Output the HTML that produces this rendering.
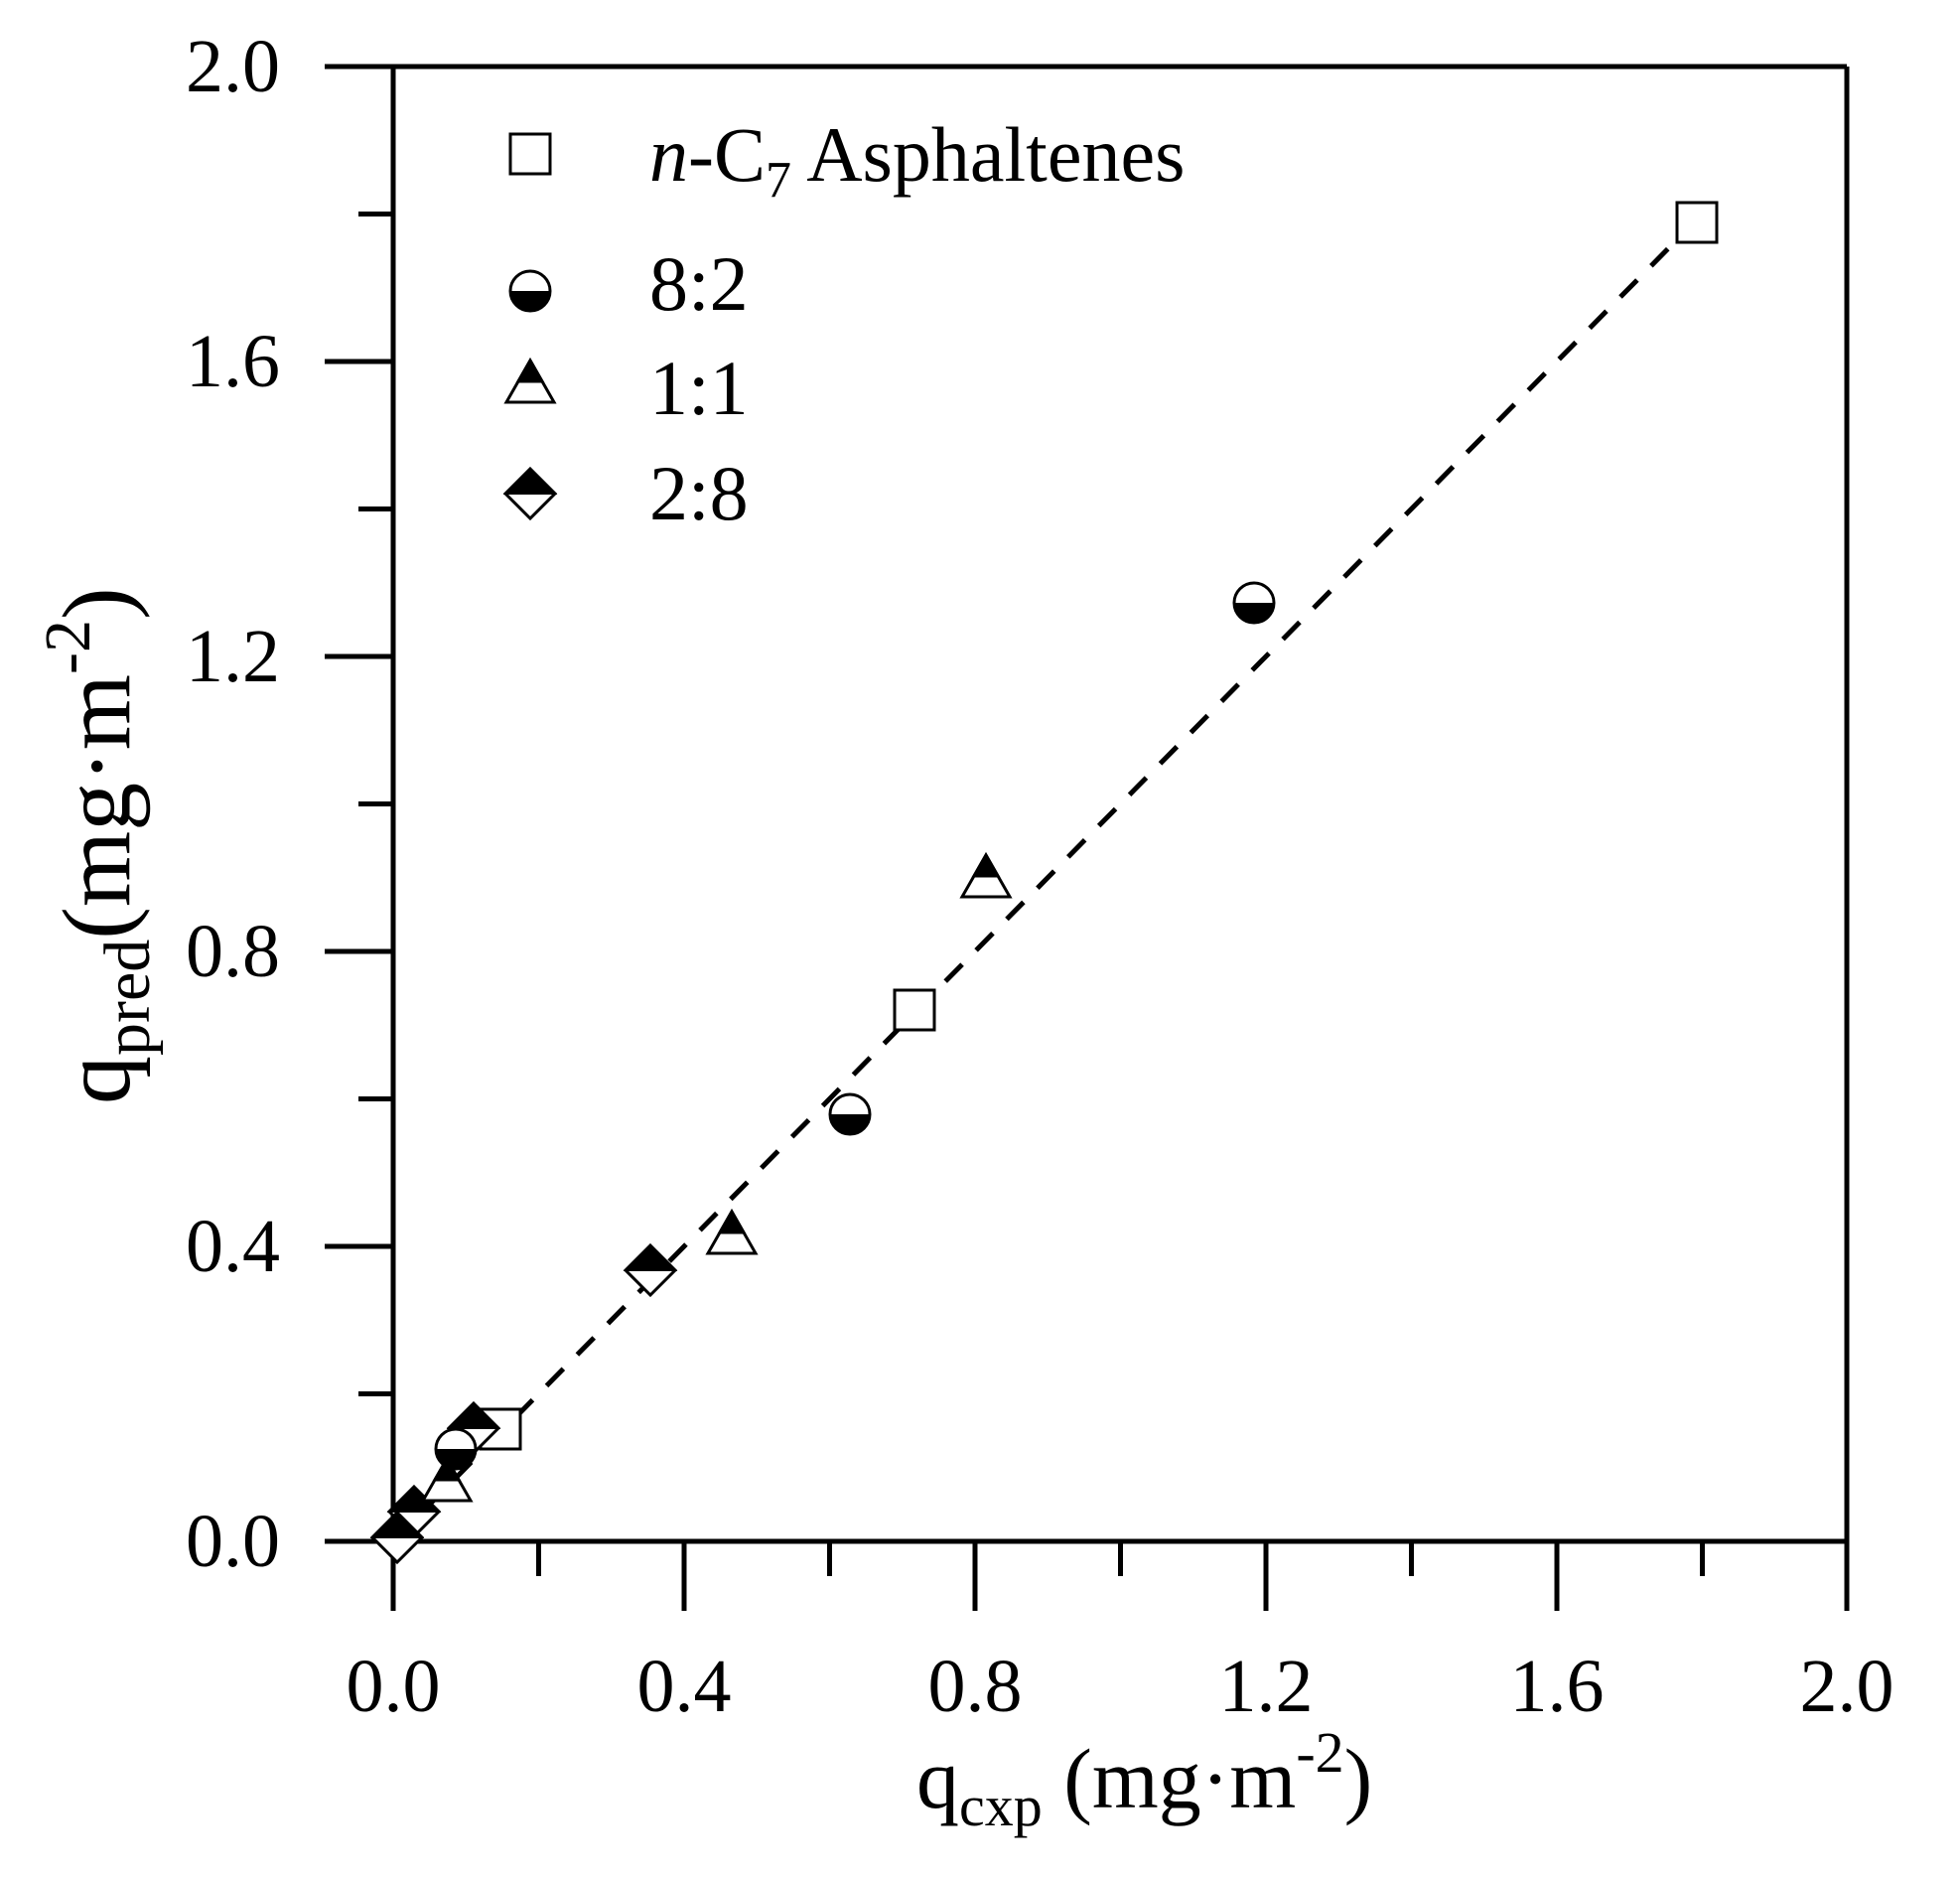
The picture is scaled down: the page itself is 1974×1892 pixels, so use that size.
<!DOCTYPE html>
<html><head><style>body{margin:0;background:#fff}svg{display:block}</style></head>
<body>
<svg width="1974" height="1892" viewBox="0 0 1974 1892" xmlns="http://www.w3.org/2000/svg" font-family="Liberation Serif, serif">
<rect width="1974" height="1892" fill="#fff"/>
<g stroke="#000" stroke-width="5" fill="none">
<line x1="396" y1="67" x2="1860" y2="67"/>
<line x1="1860" y1="67" x2="1860" y2="1552"/>
<line x1="327" y1="1552" x2="1860" y2="1552"/>
<line x1="396" y1="67" x2="396" y2="1622"/>
<line x1="542.5" y1="1552" x2="542.5" y2="1587"/>
<line x1="689" y1="1552" x2="689" y2="1622"/>
<line x1="835.5" y1="1552" x2="835.5" y2="1587"/>
<line x1="982" y1="1552" x2="982" y2="1622"/>
<line x1="1128.5" y1="1552" x2="1128.5" y2="1587"/>
<line x1="1275" y1="1552" x2="1275" y2="1622"/>
<line x1="1421.5" y1="1552" x2="1421.5" y2="1587"/>
<line x1="1568" y1="1552" x2="1568" y2="1622"/>
<line x1="1714.5" y1="1552" x2="1714.5" y2="1587"/>
<line x1="1860" y1="1552" x2="1860" y2="1622"/>
<line x1="361" y1="1403.5" x2="396" y2="1403.5"/>
<line x1="327" y1="1255" x2="396" y2="1255"/>
<line x1="361" y1="1106.5" x2="396" y2="1106.5"/>
<line x1="327" y1="958" x2="396" y2="958"/>
<line x1="361" y1="809.5" x2="396" y2="809.5"/>
<line x1="327" y1="661" x2="396" y2="661"/>
<line x1="361" y1="512.5" x2="396" y2="512.5"/>
<line x1="327" y1="364" x2="396" y2="364"/>
<line x1="361" y1="215.5" x2="396" y2="215.5"/>
<line x1="327" y1="67" x2="396" y2="67"/>
</g>
<g font-size="76" text-anchor="end">
<text x="282" y="1577">0.0</text>
<text x="282" y="1280">0.4</text>
<text x="282" y="983">0.8</text>
<text x="282" y="686">1.2</text>
<text x="282" y="389">1.6</text>
<text x="282" y="92">2.0</text>
</g>
<g font-size="76" text-anchor="middle">
<text x="396" y="1723">0.0</text>
<text x="689" y="1723">0.4</text>
<text x="982" y="1723">0.8</text>
<text x="1275" y="1723">1.2</text>
<text x="1568" y="1723">1.6</text>
<text x="1860" y="1723">2.0</text>
</g>
<text x="923" y="1820" font-size="86">q<tspan font-size="58" dy="18">cxp</tspan><tspan dy="-18"> (mg·m</tspan><tspan font-size="58" dy="-36">-2</tspan><tspan dy="36">)</tspan></text>
<text transform="translate(130,1112) rotate(-90)" font-size="98">q<tspan font-size="66" dy="20">pred</tspan><tspan dy="-20">(mg·m</tspan><tspan font-size="66" dy="-40">-2</tspan><tspan dy="40">)</tspan></text>
<line x1="396" y1="1552" x2="1707" y2="223" stroke="#000" stroke-width="5" stroke-dasharray="24,20"/>
<defs>
<g id="sq"><rect x="-20" y="-20" width="40" height="40" fill="#fff" stroke="#000" stroke-width="3"/></g>
<g id="ci"><circle r="20" fill="#fff" stroke="#000" stroke-width="3"/><path d="M-20,0 A20,20 0 0 0 20,0 Z" fill="#000"/></g>
<g id="tr"><path d="M0,-22 L24,20 L-24,20 Z" fill="#fff" stroke="#000" stroke-width="3"/><path d="M0,-22 L12,-1 L-12,-1 Z" fill="#000" stroke="#000" stroke-width="3"/></g>
<g id="di"><path d="M0,-25 L25,0 L0,25 L-25,0 Z" fill="#fff" stroke="#000" stroke-width="3"/><path d="M0,-25 L25,0 L-25,0 Z" fill="#000" stroke="#000" stroke-width="2"/></g>
</defs>
<use href="#sq" x="1709" y="224"/>
<use href="#sq" x="921" y="1017"/>
<use href="#sq" x="504" y="1439"/>
<use href="#di" x="655" y="1279"/>
<use href="#di" x="477" y="1438"/>
<use href="#di" x="417" y="1522"/>
<use href="#di" x="400" y="1548"/>
<use href="#tr" x="993" y="883"/>
<use href="#tr" x="737" y="1242"/>
<use href="#tr" x="450" y="1491"/>
<use href="#ci" x="1263" y="607"/>
<use href="#ci" x="856" y="1122"/>
<use href="#ci" x="459" y="1459"/>
<use href="#sq" x="534" y="155"/>
<use href="#ci" x="534" y="293"/>
<use href="#tr" x="534" y="385"/>
<use href="#di" x="534" y="497"/>
<g font-size="78">
<text x="654" y="182"><tspan font-style="italic">n</tspan>-C<tspan font-size="52" dy="16">7</tspan><tspan dy="-16"> Asphaltenes</tspan></text>
<text x="654" y="312">8:2</text>
<text x="654" y="417">1:1</text>
<text x="654" y="523">2:8</text>
</g>
</svg>
</body></html>
